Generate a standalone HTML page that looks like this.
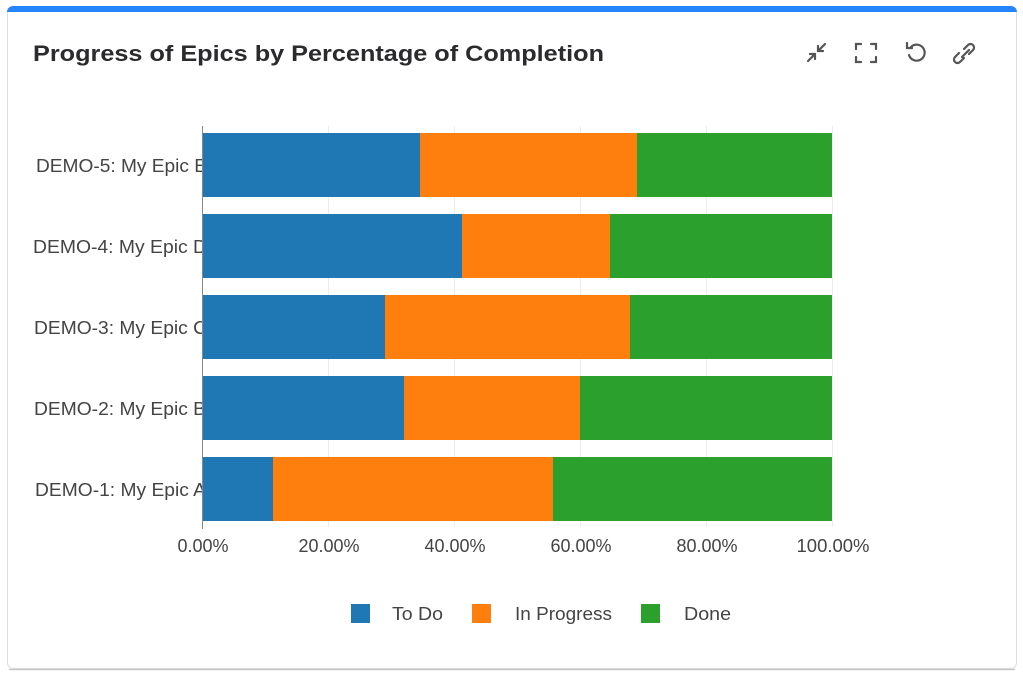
<!DOCTYPE html>
<html><head><meta charset="utf-8"><style>
html,body{margin:0;padding:0;background:#fff;width:1023px;height:675px;overflow:hidden;font-family:"Liberation Sans",sans-serif}
</style></head><body>
<svg width="1023" height="675" viewBox="0 0 1023 675" xmlns="http://www.w3.org/2000/svg" font-family="Liberation Sans, sans-serif">
<defs><clipPath id="cc"><rect x="7" y="6" width="1010" height="664" rx="6"/></clipPath></defs>
<rect x="7.5" y="7.5" width="1009" height="661" rx="6" fill="#fff" stroke="#dcdcdc"/>
<line x1="9" y1="669.5" x2="1015" y2="669.5" stroke="#c8c8c8" stroke-width="1.5"/>
<g clip-path="url(#cc)"><rect x="7" y="6" width="1010" height="6" fill="#2684ff"/></g>
<text x="33" y="61" font-size="22" font-weight="bold" fill="#2b2b2e" textLength="571" lengthAdjust="spacingAndGlyphs">Progress of Epics by Percentage of Completion</text>
<g stroke="#555" stroke-width="2.2" fill="none" stroke-linecap="round">
<path d="M825 44 L818 51 M818 46 V51 H823 M808 61 L815 54 M810 54 H815 V59"/>
<path d="M856 49 V44 H861 M871 44 H876 V49 M876 57 V62 H871 M861 62 H856 V57"/>
<path d="M911 47 A8 8 0 1 1 909 55 M907 43 V48 H912"/>
<path d="M964 49 L968 45 A3.5 3.5 0 0 1 973 50 L969 54 M964 58 L960 62 A3.5 3.5 0 0 1 955 57 L959 53 M962 57 L969 50"/>
</g>
<g stroke="#ececec" stroke-width="1">
<line x1="328.5" y1="126" x2="328.5" y2="527"/><line x1="454.5" y1="126" x2="454.5" y2="527"/>
<line x1="580.5" y1="126" x2="580.5" y2="527"/><line x1="706.5" y1="126" x2="706.5" y2="527"/>
<line x1="832.5" y1="126" x2="832.5" y2="527"/>
</g>
<g font-size="18" fill="#444">
<text x="36" y="172" textLength="171" lengthAdjust="spacingAndGlyphs">DEMO-5: My Epic E</text>
<text x="33" y="253" textLength="174" lengthAdjust="spacingAndGlyphs">DEMO-4: My Epic D</text>
<text x="34" y="334" textLength="173" lengthAdjust="spacingAndGlyphs">DEMO-3: My Epic C</text>
<text x="34" y="415" textLength="172" lengthAdjust="spacingAndGlyphs">DEMO-2: My Epic B</text>
<text x="35" y="496" textLength="171" lengthAdjust="spacingAndGlyphs">DEMO-1: My Epic A</text>
</g>
<g>
<rect x="203" y="133" width="217" height="64" fill="#1f77b4"/><rect x="420" y="133" width="217" height="64" fill="#ff7f0e"/><rect x="637" y="133" width="195" height="64" fill="#2ca02c"/>
<rect x="203" y="214" width="259" height="64" fill="#1f77b4"/><rect x="462" y="214" width="148" height="64" fill="#ff7f0e"/><rect x="610" y="214" width="222" height="64" fill="#2ca02c"/>
<rect x="203" y="295" width="182" height="64" fill="#1f77b4"/><rect x="385" y="295" width="245" height="64" fill="#ff7f0e"/><rect x="630" y="295" width="202" height="64" fill="#2ca02c"/>
<rect x="203" y="376" width="201" height="64" fill="#1f77b4"/><rect x="404" y="376" width="176" height="64" fill="#ff7f0e"/><rect x="580" y="376" width="252" height="64" fill="#2ca02c"/>
<rect x="203" y="457" width="70" height="64" fill="#1f77b4"/><rect x="273" y="457" width="280" height="64" fill="#ff7f0e"/><rect x="553" y="457" width="279" height="64" fill="#2ca02c"/>
</g>
<line x1="202.5" y1="126" x2="202.5" y2="529" stroke="#888" stroke-width="1"/>
<g font-size="18" fill="#444" text-anchor="middle">
<text x="203" y="552">0.00%</text><text x="329" y="552">20.00%</text><text x="455" y="552">40.00%</text>
<text x="581" y="552">60.00%</text><text x="707" y="552">80.00%</text><text x="833" y="552" textLength="73" lengthAdjust="spacingAndGlyphs">100.00%</text>
</g>
<rect x="351" y="604" width="19" height="19" fill="#1f77b4"/><text x="392" y="620" font-size="18" fill="#444" textLength="51" lengthAdjust="spacingAndGlyphs">To Do</text>
<rect x="472" y="604" width="19" height="19" fill="#ff7f0e"/><text x="515" y="620" font-size="18" fill="#444" textLength="97" lengthAdjust="spacingAndGlyphs">In Progress</text>
<rect x="641" y="604" width="19" height="19" fill="#2ca02c"/><text x="684" y="620" font-size="18" fill="#444" textLength="47" lengthAdjust="spacingAndGlyphs">Done</text>
</svg>
</body></html>
